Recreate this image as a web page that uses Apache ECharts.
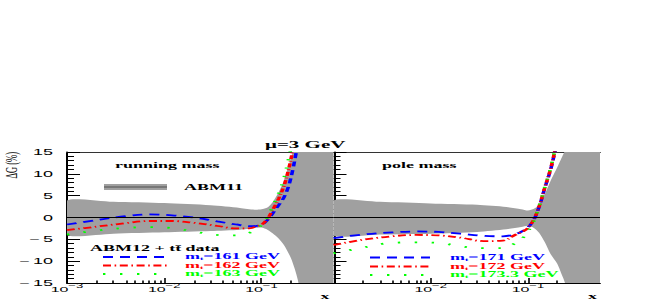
<!DOCTYPE html>
<html><head><meta charset="utf-8">
<script src="https://cdn.jsdelivr.net/npm/echarts@6/dist/echarts.min.js"></script>
<style>
html,body{margin:0;padding:0;background:#fff;overflow:hidden;}
#wrap{width:664px;height:305px;overflow:hidden;}
#c{width:332px;height:305px;transform:scaleX(2);transform-origin:0 0;}
</style></head><body><div id="wrap"><div id="c"></div></div>
<script>
// ---- data ----
const X_MIN = 0.001, X_MAX = 0.55;
const majorTicks = [0.001, 0.01, 0.1];
const leftTickLabels = [0.001, 0.01, 0.1];
const rightTickLabels = [0.01, 0.1];
const yTicks = [-15, -10, -5, 0, 5, 10, 15];

// curves: common x grid
const xCurve = [0.001, 0.002, 0.004, 0.007, 0.012, 0.02, 0.035, 0.055, 0.075, 0.09, 0.1, 0.115, 0.13, 0.15, 0.17, 0.19, 0.21, 0.23, 0.25];
// running mass (ABM12 + ttbar)
const run161 = [-1.6, -0.6, 0.3, 0.7, 0.5, 0.0, -0.9, -1.6, -2.0, -1.9, -1.7, -0.6, 0.9, 2.8, 4.6, 7.2, 11, 15.5, 20];
const run162 = [-2.9, -2.1, -1.3, -0.8, -0.8, -1.2, -1.9, -2.5, -2.5, -2.0, -1.7, -0.3, 1.7, 4.3, 7.2, 11, 15.5, 20, 25];
const run163 = [-3.9, -3.0, -2.4, -2.2, -2.4, -3.2, -4.0, -4.1, -3.5, -2.6, -1.7, 0.1, 2.5, 5.5, 9, 13.5, 18, 22, 26];
// pole mass
const pole171 = [-4.7, -3.9, -3.4, -3.2, -3.3, -3.7, -4.2, -4.3, -3.8, -3.0, -2.3, -0.5, 2.4, 7.0, 10.8, 15.3, 20, 25, 30];
const pole172 = [-6.3, -5.1, -4.3, -4.0, -4.1, -4.6, -5.4, -5.3, -3.9, -3.1, -2.4, -0.4, 2.5, 7.1, 11, 15.5, 20, 25, 30];
const pole173 = [-8.2, -6.9, -5.8, -5.7, -5.8, -6.6, -7.0, -7.0, -5.8, -4.5, -3.2, -0.8, 2.6, 7.2, 11.2, 15.8, 20.5, 25, 30];

// ABM11 uncertainty band
const xBand = [0.001, 0.003, 0.01, 0.03, 0.06, 0.085, 0.1, 0.115, 0.13, 0.15, 0.17, 0.2, 0.22, 0.24, 0.26, 0.28, 0.55];
const bandRunHi = [3.9, 3.6, 3.3, 2.8, 2.2, 1.8, 1.9, 2.3, 3.5, 5.8, 8.5, 13.5, 17, 21, 30, 60, 60];
const bandRunLo = [-4.0, -3.7, -3.4, -3.1, -2.8, -2.4, -2.3, -2.8, -3.6, -4.8, -6.3, -9.2, -11.8, -15, -22, -60, -60];
const bandPoleHi = [3.9, 3.6, 3.2, 2.9, 2.4, 1.9, 1.6, 2.0, 3.0, 5.5, 8.3, 11.5, 13.5, 15.5, 22, 60, 60];
const bandPoleLo = [-4.1, -3.9, -3.7, -3.3, -2.7, -2.2, -1.9, -2.4, -3.5, -5.8, -8.3, -10.6, -12.8, -15, -22, -60, -60];

const legendRun = ['161', '162', '163'];
const legendPole = ['171', '172', '173.3'];

// ---- styling ----
const GRAY = '#a0a0a0';
const BLUE = '#0000ff', RED = '#ff0000', GREEN = '#00ff00';
const DASH_BLUE = [5, 3.5], DASH_RED = [4, 1.8, 0.8, 1.8], DASH_GREEN = [1.2, 7.3];
const SERIF = 'Liberation Serif', SANS = 'Liberation Sans';

const minorTicks = [];
for (const d of majorTicks) for (let k = 2; k <= 9; k++) { const v = +(k * d).toPrecision(3); if (v <= X_MAX) minorTicks.push(v); }

const powRich = {
  b: {fontSize: 8, fontFamily: SANS, color: '#000', lineHeight: 9, verticalAlign: 'middle'},
  s: {fontSize: 6.5, fontFamily: SANS, color: '#000', lineHeight: 7, padding: [0, 0, 7, 0], verticalAlign: 'middle'}
};
function fmtPow(v) { const e = Math.round(Math.log10(v)); return '{b|10}{s|' + (e < 0 ? '\u2212' : '') + Math.abs(e) + '}'; }

const grids = [
  {left: 33.5, top: 152, width: 133.25, height: 131},
  {left: 166.75, top: 152, width: 133.25, height: 131}
];

function xMain(g, labels, nameGap) {
  return {type: 'log', logBase: 10, gridIndex: g, min: X_MIN, max: X_MAX, position: 'bottom',
    axisLine: {show: true, onZero: false, lineStyle: {color: '#000', width: 1}},
    axisTick: {show: true, inside: true, length: 5, customValues: majorTicks, lineStyle: {color: '#000', width: 0.8}},
    axisLabel: {show: true, customValues: labels, margin: 2, formatter: fmtPow, rich: powRich},
    splitLine: {show: false}, minorTick: {show: false}, minorSplitLine: {show: false},
    name: 'x', nameLocation: 'end', nameGap: nameGap,
    nameTextStyle: {align: 'right', verticalAlign: 'top', padding: [8, 0, 0, 0], fontFamily: SERIF, fontWeight: 'bold', fontSize: 9, color: '#000'}};
}
function xMinor(g) {
  return {type: 'log', logBase: 10, gridIndex: g, min: X_MIN, max: X_MAX, position: 'bottom',
    axisLine: {show: false, onZero: false},
    axisTick: {show: true, inside: true, length: 2.5, customValues: minorTicks, lineStyle: {color: '#000', width: 0.8}},
    axisLabel: {show: false}, splitLine: {show: false}};
}
function xTop(g) {
  return {type: 'log', logBase: 10, gridIndex: g, min: X_MIN, max: X_MAX, position: 'top',
    axisLine: {show: true, onZero: false, lineStyle: {color: '#333', width: 1}},
    axisTick: {show: false}, axisLabel: {show: false}, splitLine: {show: false}};
}
function yAx(g, showLabels) {
  return {type: 'value', gridIndex: g, min: -15, max: 15, interval: 5, position: 'left',
    axisLine: {show: true, onZero: false, lineStyle: {color: '#000', width: 1}},
    axisTick: {show: true, inside: true, length: 6.5, lineStyle: {color: '#000', width: 1}},
    minorTick: {show: true, splitNumber: 5, length: 3.5, lineStyle: {color: '#000', width: 1}},
    axisLabel: {show: showLabels, margin: 7, fontFamily: SANS, fontSize: 9, color: '#000',
      formatter: v => (v < 0 ? '\u2212\u2009' + Math.abs(v) : String(v))},
    splitLine: {show: false}};
}

// uncertainty band: polygon between lower and upper edge, placed through the axes
function band(xi, yi, lo, hi) {
  return {type: 'custom', xAxisIndex: xi, yAxisIndex: yi, silent: true, z: 1,
    data: xBand.map((x, i) => [x, lo[i], hi[i]]),
    encode: {x: 0, y: [1, 2]},
    renderItem: function (params, api) {
      if (params.dataIndex !== 0) return null;
      const n = xBand.length, pts = [];
      for (let i = 0; i < n; i++) pts.push(api.coord([xBand[i], hi[i]]));
      for (let i = n - 1; i >= 0; i--) pts.push(api.coord([xBand[i], lo[i]]));
      const cs = params.coordSys;
      return {type: 'polygon', shape: {points: pts, smooth: 0.25}, style: {fill: GRAY, stroke: null},
        clipPath: {type: 'rect', shape: {x: cs.x, y: cs.y, width: cs.width, height: cs.height}}};
    }
  };
}
function curve(xi, yi, ys, color, dash, name, zero) {
  const s = {type: 'line', name: name, xAxisIndex: xi, yAxisIndex: yi, symbol: 'none', smooth: 0.35, silent: true, z: 3,
    data: xCurve.map((x, i) => [x, ys[i]]), lineStyle: {color: color, width: 1.8, type: dash}};
  if (zero) s.markLine = {silent: true, symbol: ['none', 'none'], label: {show: false}, animation: false,
    lineStyle: {color: '#000', width: 1, type: 'solid'}, emphasis: {disabled: true}, data: [{yAxis: 0}]};
  return s;
}

const SY = 0.85; // legend text squeezed vertically so rows do not collide
const txt = {fontFamily: SERIF, fontWeight: 'bold', fontSize: 9, fill: '#000', align: 'left', verticalAlign: 'middle'};
function mtRich(color) {
  return {
    a: {fontFamily: SERIF, fontWeight: 'bold', fontSize: 9, fill: color, color: color, lineHeight: 8, verticalAlign: 'middle'},
    t: {fontFamily: SERIF, fontWeight: 'bold', fontSize: 5, fill: color, color: color, lineHeight: 4, padding: [4, 0, 0, 0], verticalAlign: 'middle'}
  };
}
function legendRow(x1, x2, xt, y, color, dash, mass) {
  return [
    {type: 'line', shape: {x1: x1, y1: y, x2: x2, y2: y}, style: {stroke: color, lineWidth: 1.8, lineDash: dash}},
    {type: 'text', x: xt, y: y, scaleY: SY, style: Object.assign({}, txt, {fill: color, text: '{a|m}{t|t}{a|=' + mass + ' GeV}', rich: mtRich(color)})}
  ];
}

const graphics = [
  {type: 'text', x: 5.5, y: 152, rotation: Math.PI / 2, style: {text: '\u0394G (%)', fontFamily: SERIF, fontSize: 8.5, fill: '#000', align: 'right', verticalAlign: 'middle'}},
  {type: 'text', x: 57.5, y: 165, style: Object.assign({}, txt, {text: 'running mass'})},
  {type: 'text', x: 191, y: 165, style: Object.assign({}, txt, {text: 'pole mass'})},
  {type: 'rect', shape: {x: 52, y: 184, width: 31.5, height: 6}, style: {fill: GRAY}},
  {type: 'line', shape: {x1: 52, y1: 187, x2: 83.5, y2: 187}, style: {stroke: '#6a6a6a', lineWidth: 1.5}},
  {type: 'text', x: 92, y: 187, style: Object.assign({}, txt, {text: 'ABM11'})},
  {type: 'text', x: 45, y: 248.5, scaleY: SY, style: Object.assign({}, txt, {text: 'ABM12 + tt\u0304 data'})}
].concat(
  legendRow(51.5, 83.5, 92.5, 257, BLUE, DASH_BLUE, legendRun[0]),
  legendRow(51.5, 83.5, 92.5, 265.5, RED, DASH_RED, legendRun[1]),
  legendRow(51.5, 83.5, 92.5, 274, GREEN, DASH_GREEN, legendRun[2]),
  legendRow(185, 215, 225, 257.5, BLUE, DASH_BLUE, legendPole[0]),
  legendRow(185, 215, 225, 266.5, RED, DASH_RED, legendPole[1]),
  legendRow(185, 215, 225, 275, GREEN, DASH_GREEN, legendPole[2])
);

const chart = echarts.init(document.getElementById('c'), null, {renderer: 'svg', width: 332, height: 305});
chart.setOption({
  animation: false,
  backgroundColor: '#fff',
  title: {text: '\u03bc=3 GeV', left: 132.5, top: 139.5, padding: 0,
    textStyle: {fontFamily: SERIF, fontWeight: 'bold', fontSize: 10.5, color: '#000'}},
  grid: grids.map(g => Object.assign({containLabel: false, outerBoundsMode: 'none'}, g)),
  xAxis: [xMain(0, leftTickLabels, -2), xMinor(0), xTop(0), xMain(1, rightTickLabels, -1.5), xMinor(1), xTop(1)],
  yAxis: [yAx(0, true), yAx(1, false)],
  series: [
    band(0, 0, bandRunLo, bandRunHi),
    band(3, 1, bandPoleLo, bandPoleHi),
    curve(0, 0, run161, BLUE, DASH_BLUE, 'mt=161 GeV', true),
    curve(0, 0, run162, RED, DASH_RED, 'mt=162 GeV'),
    curve(0, 0, run163, GREEN, DASH_GREEN, 'mt=163 GeV'),
    curve(3, 1, pole171, BLUE, DASH_BLUE, 'mt=171 GeV', true),
    curve(3, 1, pole172, RED, DASH_RED, 'mt=172 GeV'),
    curve(3, 1, pole173, GREEN, DASH_GREEN, 'mt=173.3 GeV')
  ],
  graphic: graphics
});
</script></body></html>
